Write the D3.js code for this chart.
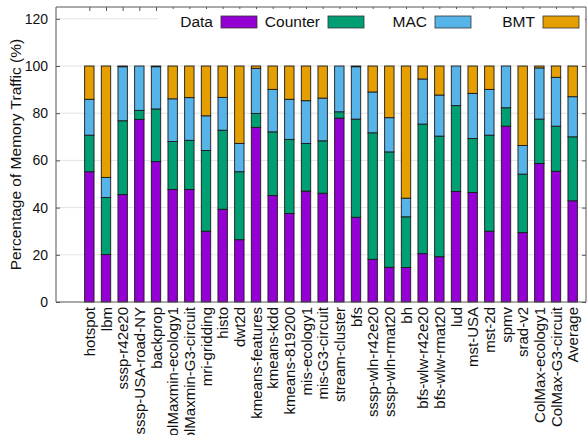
<!DOCTYPE html>
<html>
<head>
<meta charset="utf-8">
<script src="https://cdn.jsdelivr.net/npm/d3@7"></script>
<style>
html,body{margin:0;padding:0;background:#fff;}
svg{display:block;font-family:"Liberation Sans",Arial,Helvetica,sans-serif;}
</style>
</head>
<body>
<svg id="chart" width="587" height="435"></svg>
<script>
const categories = ["hotspot","lbm","sssp-r42e20","sssp-USA-road-NY","backprop","ColMaxmin-ecology1","ColMaxmin-G3-circuit","mri-gridding","histo","dwt2d","kmeans-features","kmeans-kdd","kmeans-819200","mis-ecology1","mis-G3-circuit","stream-cluster","bfs","sssp-wln-r42e20","sssp-wln-rmat20","bh","bfs-wlw-r42e20","bfs-wlw-rmat20","lud","mst-USA","mst-2d","spmv","srad-v2","ColMax-ecology1","ColMax-G3-circuit","Average"];
const dataVals    = [55.2,20.1,45.5,77.4,59.5,47.7,47.7,30.0,39.3,26.4,74.0,45.1,37.5,47.0,46.1,77.9,35.9,18.1,14.7,14.6,20.5,19.2,46.8,46.4,30.0,74.5,29.4,58.7,55.4,42.9];
const counterVals = [15.5,24.2,31.3,3.8,22.3,20.3,20.8,34.2,33.5,28.8,5.9,27.0,31.4,20.2,22.2,2.7,41.6,53.6,48.9,21.5,54.9,51.1,36.4,22.9,40.7,7.8,24.8,18.8,19.1,27.1];
const macVals     = [15.2,8.5,22.9,18.8,17.9,18.1,18.1,14.7,13.9,12.0,19.1,18.0,17.0,18.1,18.1,19.4,22.2,17.3,14.5,7.9,19.1,17.4,16.8,19.1,19.4,17.7,12.1,21.7,20.7,17.0];
const bmtVals     = [14.1,47.2,0.3,0,0.3,13.9,13.4,21.1,13.3,32.8,1.0,9.9,14.1,14.7,13.6,0,0.3,11.0,21.9,56.0,5.5,12.3,0,11.6,9.9,0,33.7,0.8,4.8,13.0];
const seriesNames = ["Data","Counter","MAC","BMT"];
const yTicks = [0,20,40,60,80,100,120];

const colors = {Data:"#9400D3",Counter:"#009E73",MAC:"#56B4E9",BMT:"#E69F00"};
const svg = d3.select("#chart");
const L = 56, R = 586, T = 7, B = 302;

const x = d3.scaleLinear().domain([-2, 29.8]).range([L, R]);
const y = d3.scaleLinear().domain([0, 125]).range([B, T]);
const barW = 9.4;

const rows = categories.map((c,i)=>({cat:c, i:i, Data:dataVals[i], Counter:counterVals[i], MAC:macVals[i], BMT:bmtVals[i]}));
const stack = d3.stack().keys(seriesNames)(rows);

// gridlines
svg.append("g").selectAll("line").data(yTicks.filter(d=>d>0)).join("line")
  .attr("x1", L).attr("x2", R).attr("y1", d=>y(d)).attr("y2", d=>y(d))
  .attr("stroke", "#e3e3e3").attr("stroke-width", 1);

// bars
svg.append("g").selectAll("g").data(stack).join("g")
  .attr("fill", d=>colors[d.key])
  .selectAll("rect").data(d=>d.filter(s=>s[1]-s[0]>0.05)).join("rect")
  .attr("x", d=>x(d.data.i)-barW/2)
  .attr("width", barW)
  .attr("y", d=>y(d[1]))
  .attr("height", d=>y(d[0])-y(d[1]))
  .attr("stroke", "#1a1a1a").attr("stroke-width", 0.9);

// frame
const ax = "#555";
svg.append("line").attr("x1",L).attr("x2",L).attr("y1",T).attr("y2",B).attr("stroke",ax);
svg.append("line").attr("x1",R).attr("x2",R).attr("y1",T).attr("y2",B).attr("stroke",ax);
svg.append("line").attr("x1",L).attr("x2",R).attr("y1",T).attr("y2",T).attr("stroke",ax);
svg.append("line").attr("x1",L).attr("x2",R).attr("y1",B).attr("y2",B).attr("stroke",ax);

// y axis
const yAxis = d3.axisLeft(y).tickValues(yTicks).tickSize(-4).tickPadding(8).tickFormat(d3.format("d"));
const gy = svg.append("g").attr("transform",`translate(${L},0)`).call(yAxis);
gy.select(".domain").remove();
gy.selectAll(".tick line").attr("stroke",ax);
gy.selectAll(".tick text").attr("font-size",14).attr("fill","#111").attr("font-family","Liberation Sans, Arial, sans-serif");
// right mirror ticks
const yAxisR = d3.axisRight(y).tickValues(yTicks).tickSize(-4).tickFormat("");
const gyr = svg.append("g").attr("transform",`translate(${R},0)`).call(yAxisR);
gyr.select(".domain").remove();
gyr.selectAll(".tick line").attr("stroke",ax);

// top mirror ticks
const xTop = d3.axisTop(x).tickValues(d3.range(categories.length)).tickSize(-4).tickFormat("");
const gxt = svg.append("g").attr("transform",`translate(0,${T})`).call(xTop);
gxt.select(".domain").remove();
gxt.selectAll(".tick line").attr("stroke",ax);

// x labels
const xAxis = d3.axisBottom(x).tickValues(d3.range(categories.length)).tickSize(0).tickFormat(i=>categories[i]);
const gx = svg.append("g").attr("transform",`translate(0,${B})`).call(xAxis);
gx.select(".domain").remove();
gx.selectAll(".tick text")
  .attr("font-size",15).attr("fill","#111").attr("font-family","Liberation Sans, Arial, sans-serif")
  .attr("transform","rotate(-90)")
  .attr("text-anchor","end")
  .attr("x",-5).attr("y",0).attr("dy","0.35em");

// y label
svg.append("text")
  .attr("transform",`translate(21,${(T+B)/2}) rotate(-90)`)
  .attr("text-anchor","middle")
  .attr("font-size",15.5).attr("fill","#111")
  .text("Percentage of Memory Traffic (%)");

// legend
svg.append("rect").attr("x",158).attr("y",9).attr("width",R-158-1).attr("height",24).attr("fill","#fff");
const legX = [221,328,435,543];
const leg = svg.append("g").selectAll("g").data(seriesNames).join("g")
  .attr("transform",(d,i)=>`translate(${legX[i]},16)`);
leg.append("rect").attr("width",36).attr("height",12).attr("fill",d=>colors[d]).attr("stroke","#333").attr("stroke-width",0.8);
leg.append("text").attr("x",-8).attr("y",11).attr("text-anchor","end")
  .attr("font-size",15.5).attr("fill","#111").text(d=>d);
</script>
</body>
</html>
